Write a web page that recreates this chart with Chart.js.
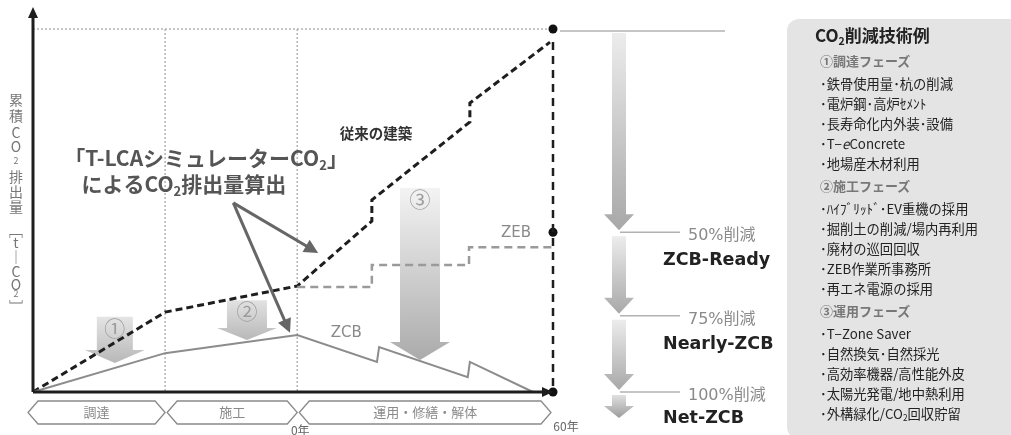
<!DOCTYPE html>
<html lang="ja">
<head>
<meta charset="utf-8">
<script src="https://cdn.jsdelivr.net/npm/chart.js@4/dist/chart.umd.min.js"></script>
<style>
html,body{margin:0;padding:0;background:#fff;overflow:hidden;}
#wrap{position:relative;width:1011px;height:435px;overflow:hidden;font-family:"Noto Sans CJK JP",sans-serif;}
#c{position:absolute;left:0;top:0;}
.lvl{position:absolute;left:688px;transform:translateY(-50%);font:16px "DejaVu Sans","Noto Sans CJK JP";color:#8a8a8a;white-space:nowrap;}
.stage{position:absolute;left:663px;transform:translateY(-50%);font:bold 17.5px "DejaVu Sans",sans-serif;color:#222;white-space:nowrap;}
#panel{position:absolute;left:787px;top:19px;width:250px;height:420px;background:#e4e4e4;border-radius:12px;}
#panel .ttl{padding:4px 0 0 28px;line-height:24px;height:24px;margin-bottom:4px;font-weight:bold;font-size:17px;color:#222;}
#panel .ph{margin-top:2px;margin-bottom:3px;line-height:20px;height:20px;padding-left:33px;font-weight:bold;font-size:13px;color:#777;}
#panel .it{line-height:20px;height:20px;padding-left:33px;font-size:13.3px;color:#222;white-space:nowrap;}
sub{font-size:0.62em;vertical-align:-0.25em;line-height:0;}
</style>
</head>
<body>
<div id="wrap">
  <canvas id="c" width="1011" height="435"></canvas>
  <div id="panel"></div>
</div>
<script>
// ---- phases along the life cycle (x axis: years, negative = before completion) ----
const phaseLabels = ['調達', '施工', '運用・修繕・解体'];
const phaseBounds = [-62, -31, 0, 60];
const yearTicks = [0, 60];
const yearTickLabels = ['0年', '60年'];

// ---- cumulative CO2 emission curves (relative units, 100 = conventional total) ----
const conventionalX = [-62, -31, 0, 17.5, 17.5, 40.5, 40.5, 59.3];
const conventionalY = [0, 22.0, 29.2, 47.1, 52.9, 74.4, 79.6, 96.4];
const zebX = [0, 17.5, 17.5, 40.3, 40.3, 60];
const zebY = [28.9, 28.9, 35.0, 35.0, 39.9, 39.9];
const zcbX = [-62, -31, 0, 18.7, 19.2, 40.0, 40.5, 55.3];
const zcbY = [0, 10.7, 15.7, 8.3, 12.4, 4.1, 8.3, 0];
const endMarkerY = [100, 44, 0];

// ---- reduction levels at 60 years ----
const reductionLevels = [100, 44, 21, 0];
const reductionLabels = ['50%削減', '75%削減', '100%削減'];
const reductionStages = ['ZCB-Ready', 'Nearly-ZCB', 'Net-ZCB'];

// ---- reduction arrows per phase (x centre, top, tip in data units) ----
const phaseArrowLabels = ['①', '②', '③'];
const phaseArrowX = [-42.8, -11.8, 28.8];
const phaseArrowTop = [20.7, 25.3, 56.2];
const phaseArrowTip = [8.0, 14.3, 8.8];

// ---- texts ----
const yTitle = ['累', '積', 'C', 'O', '_2', '排', '出', '量', '﹇', 't', '｜', 'C', 'O', '_2', '﹈'];
const annotationLines = ['「T-LCAシミュレーターCO_2」', 'によるCO_2排出量算出'];
const panelTitle = 'CO_2削減技術例';
const procurementTech = ['･鉄骨使用量･杭の削減', '･電炉鋼･高炉ｾﾒﾝﾄ', '･長寿命化内外装･設備', '･T−<i>e</i>Concrete', '･地場産木材利用'];
const constructionTech = ['･ﾊｲﾌﾞﾘｯﾄﾞ･EV重機の採用', '･掘削土の削減/場内再利用', '･廃材の巡回回収', '･ZEB作業所事務所', '･再エネ電源の採用'];
const operationTech = ['･T−Zone Saver', '･自然換気･自然採光', '･高効率機器/高性能外皮', '･太陽光発電/地中熱利用', '･外構緑化/CO_2回収貯留'];
const techPhaseTitles = ['①調達フェーズ', '②施工フェーズ', '③運用フェーズ'];

const pts = (xs, ys) => xs.map((x, i) => ({x, y: ys[i]}));
const subHtml = s => s.replace(/_2/g, '<sub>2</sub>');

// side panel
(function buildPanel() {
  const p = document.getElementById('panel');
  let html = `<div class="ttl">${subHtml(panelTitle)}</div>`;
  [procurementTech, constructionTech, operationTech].forEach((items, i) => {
    html += `<div class="ph">${techPhaseTitles[i]}</div>`;
    items.forEach(t => { html += `<div class="it">${subHtml(t)}</div>`; });
  });
  p.innerHTML = html;
})();

function parseSub(s) {
  return s.split(/(_2)/).filter(t => t).map(t => t === '_2' ? ['2', true] : [t, false]);
}
function richText(ctx, str, x, y, size, weight, color) {
  const parts = parseSub(str);
  const big = `${weight} ${size}px "Noto Sans CJK JP"`;
  const small = `${weight} ${Math.round(size * 0.62)}px "Noto Sans CJK JP"`;
  ctx.fillStyle = color; ctx.textBaseline = 'middle'; ctx.textAlign = 'left';
  let w = 0;
  parts.forEach(p => { ctx.font = p[1] ? small : big; w += ctx.measureText(p[0]).width; });
  let cx = x - w / 2;
  parts.forEach(p => {
    ctx.font = p[1] ? small : big;
    ctx.fillText(p[0], cx, p[1] ? y + size * 0.32 : y);
    cx += ctx.measureText(p[0]).width;
  });
}
function gradArrow(ctx, cx, top, tip, shaftW, headW, headLen, c0, c1) {
  const g = ctx.createLinearGradient(0, top, 0, tip);
  g.addColorStop(0, c0); g.addColorStop(1, c1);
  ctx.fillStyle = g;
  ctx.beginPath();
  ctx.moveTo(cx - shaftW / 2, top);
  ctx.lineTo(cx + shaftW / 2, top);
  ctx.lineTo(cx + shaftW / 2, tip - headLen);
  ctx.lineTo(cx + headW / 2, tip - headLen);
  ctx.lineTo(cx, tip);
  ctx.lineTo(cx - headW / 2, tip - headLen);
  ctx.lineTo(cx - shaftW / 2, tip - headLen);
  ctx.closePath();
  ctx.fill();
}
function lineArrow(ctx, x0, y0, x1, y1, color, w, head) {
  const a = Math.atan2(y1 - y0, x1 - x0);
  ctx.strokeStyle = color; ctx.fillStyle = color; ctx.lineWidth = w; ctx.setLineDash([]);
  ctx.beginPath(); ctx.moveTo(x0, y0);
  ctx.lineTo(x1 - Math.cos(a) * head * 0.8, y1 - Math.sin(a) * head * 0.8); ctx.stroke();
  ctx.beginPath();
  ctx.moveTo(x1, y1);
  ctx.lineTo(x1 - head * Math.cos(a) + head * 0.5 * Math.sin(a), y1 - head * Math.sin(a) - head * 0.5 * Math.cos(a));
  ctx.lineTo(x1 - head * Math.cos(a) - head * 0.5 * Math.sin(a), y1 - head * Math.sin(a) + head * 0.5 * Math.cos(a));
  ctx.closePath(); ctx.fill();
}

const backdrop = {
  id: 'backdrop',
  beforeDatasetsDraw(chart) {
    const {ctx, scales: {x, y}, chartArea: ca} = chart;
    ctx.save();
    // dotted guides
    ctx.strokeStyle = '#b4b4b4'; ctx.lineWidth = 1.5; ctx.setLineDash([2, 2]);
    ctx.beginPath();
    ctx.moveTo(x.getPixelForValue(phaseBounds[0]), y.getPixelForValue(100));
    ctx.lineTo(x.getPixelForValue(60), y.getPixelForValue(100));
    [phaseBounds[1], phaseBounds[2]].forEach(b => {
      ctx.moveTo(x.getPixelForValue(b), y.getPixelForValue(100));
      ctx.lineTo(x.getPixelForValue(b), y.getPixelForValue(0));
    });
    ctx.stroke();
    ctx.setLineDash([]);

    // reduction arrows per phase
    const shaftW = [36, 40, 40], headW = [60, 60, 60], headLen = [13, 12, 18];
    const c0 = ['#e4e4e4', '#e2e2e2', '#f3f3f3'], c1 = ['#b8b8b8', '#b8b8b8', '#ababab'];
    phaseArrowLabels.forEach((lab, i) => {
      const cx = x.getPixelForValue(phaseArrowX[i]);
      const top = y.getPixelForValue(phaseArrowTop[i]);
      const tip = y.getPixelForValue(phaseArrowTip[i]);
      gradArrow(ctx, cx, top, tip, shaftW[i], headW[i], headLen[i], c0[i], c1[i]);
      ctx.font = '21px "Noto Sans CJK JP"'; ctx.textAlign = 'center'; ctx.textBaseline = 'middle';
      ctx.fillStyle = '#9c9c9c';
      ctx.fillText(lab, cx, top + 11);
    });

    // phase chevrons below the axis
    const top = ca.bottom + 9, bot = ca.bottom + 32, mid = (top + bot) / 2;
    phaseLabels.forEach((lab, i) => {
      const l = x.getPixelForValue(phaseBounds[i]) + (i === 0 ? -5 : 2);
      const r = x.getPixelForValue(phaseBounds[i + 1]) - (i === 2 ? 2 : 0);
      ctx.beginPath();
      ctx.moveTo(l, mid); ctx.lineTo(l + 10, top); ctx.lineTo(r - 10, top);
      ctx.lineTo(r, mid); ctx.lineTo(r - 10, bot); ctx.lineTo(l + 10, bot); ctx.closePath();
      ctx.fillStyle = '#fff'; ctx.fill();
      ctx.strokeStyle = '#8a8a8a'; ctx.lineWidth = 1.3; ctx.stroke();
      ctx.fillStyle = '#8a8a8a'; ctx.font = '13px "Noto Sans CJK JP"';
      ctx.textAlign = 'center'; ctx.textBaseline = 'middle';
      ctx.fillText(lab, (l + r) / 2, mid);
    });
    // year ticks
    ctx.fillStyle = '#666'; ctx.font = '12px "Noto Sans CJK JP"';
    ctx.fillText(yearTickLabels[0], x.getPixelForValue(yearTicks[0]) + 3, ca.bottom + 38);
    ctx.fillText(yearTickLabels[1], x.getPixelForValue(yearTicks[1]) + 13, ca.bottom + 34);

    // vertical axis title
    const ys = [100, 116, 133, 147, 161, 177, 192, 207, 231, 243, 257, 272, 285, 294, 307];
    ctx.fillStyle = '#777';
    yTitle.forEach((ch, i) => {
      const sub = ch.startsWith('_');
      ctx.font = (sub ? '9px' : '14px') + ' "Noto Sans CJK JP"';
      ctx.fillText(sub ? ch.slice(1) : ch, 16, ys[i]);
    });

    // reduction levels on the right
    const ax = ca.right + 66;
    const lvPx = reductionLevels.map(v => y.getPixelForValue(v));
    ctx.strokeStyle = '#b2b2b2'; ctx.lineWidth = 1.5;
    ctx.beginPath();
    ctx.moveTo(ca.right + 7, lvPx[0] + 2); ctx.lineTo(ca.right + 172, lvPx[0] + 2);
    for (let i = 1; i < lvPx.length; i++) {
      ctx.moveTo(ax + 1, lvPx[i]); ctx.lineTo(ca.right + 127, lvPx[i]);
    }
    ctx.stroke();
    for (let i = 0; i < lvPx.length - 1; i++) {
      gradArrow(ctx, ax, lvPx[i] + 4, lvPx[i + 1] - 2, 14, 30, 16, '#ececec', '#a8a8a8');
    }
    gradArrow(ctx, ax, lvPx[3] + 3, lvPx[3] + 26, 14, 30, 12, '#e0e0e0', '#9c9c9c');
    ctx.restore();
  },
  afterDatasetsDraw(chart) {
    const {ctx, scales: {x, y}, chartArea: ca} = chart;
    ctx.save();
    // axes with arrowheads
    const x0 = x.getPixelForValue(phaseBounds[0]), y0 = y.getPixelForValue(0);
    const xEnd = x.getPixelForValue(60);
    ctx.strokeStyle = '#1e1e1e'; ctx.fillStyle = '#1e1e1e'; ctx.lineWidth = 3; ctx.setLineDash([]);
    ctx.beginPath();
    ctx.moveTo(x0, y0); ctx.lineTo(x0, ca.top + 8);
    ctx.moveTo(x0, y0); ctx.lineTo(xEnd - 6, y0);
    ctx.stroke();
    ctx.beginPath(); ctx.moveTo(x0, ca.top - 1); ctx.lineTo(x0 - 5, ca.top + 10); ctx.lineTo(x0 + 5, ca.top + 10); ctx.closePath(); ctx.fill();
    ctx.beginPath(); ctx.moveTo(xEnd, y0); ctx.lineTo(xEnd - 11, y0 - 5); ctx.lineTo(xEnd - 11, y0 + 5); ctx.closePath(); ctx.fill();

    // series labels
    ctx.textAlign = 'center'; ctx.textBaseline = 'middle';
    ctx.fillStyle = '#333'; ctx.font = 'bold 14.5px "Noto Sans CJK JP"';
    ctx.fillText('従来の建築', x.getPixelForValue(18.5), y.getPixelForValue(71.3));
    ctx.fillStyle = '#8a8a8a'; ctx.font = '15px "DejaVu Sans"';
    ctx.fillText('ZEB', x.getPixelForValue(51.3), y.getPixelForValue(43.8));
    ctx.fillText('ZCB', x.getPixelForValue(11.5), y.getPixelForValue(16.3));

    // simulator annotation
    richText(ctx, annotationLines[0], x.getPixelForValue(-21.4), y.getPixelForValue(64.5), 21, 'bold', '#555');
    richText(ctx, annotationLines[1], x.getPixelForValue(-26.6), y.getPixelForValue(57.3), 21, 'bold', '#555');
    const sx = x.getPixelForValue(-15.0), sy = y.getPixelForValue(52.1);
    lineArrow(ctx, sx, sy, x.getPixelForValue(4.9), y.getPixelForValue(38.3), '#666', 3, 14);
    lineArrow(ctx, sx, sy, x.getPixelForValue(-1.7), y.getPixelForValue(16.3), '#666', 3, 14);
    ctx.restore();
  }
};

const chart = new Chart(document.getElementById('c'), {
  type: 'scatter',
  data: {
    datasets: [
      { label: 'ZCB', data: pts(zcbX, zcbY), showLine: true, borderColor: '#8c8c8c', borderWidth: 2, pointRadius: 0, clip: false },
      { label: 'ZEB', data: pts(zebX, zebY), showLine: true, borderColor: '#9a9a9a', borderWidth: 2.5, borderDash: [8, 5], pointRadius: 0, clip: false },
      { label: '従来の建築', data: pts(conventionalX, conventionalY), showLine: true, borderColor: '#1e1e1e', borderWidth: 3, borderDash: [7, 4], pointRadius: 0, clip: false },
      { label: '60年', data: pts([60, 60], [conventionalY[conventionalY.length - 1], 0]), showLine: true, borderColor: '#1e1e1e', borderWidth: 2.5, borderDash: [8, 6], pointRadius: 0, clip: false },
      { label: 'markers', data: pts(endMarkerY.map(() => 60), endMarkerY), showLine: false, pointRadius: 4.5, pointBackgroundColor: '#111', pointBorderWidth: 0, clip: false }
    ]
  },
  options: {
    responsive: false,
    animation: false,
    events: [],
    layout: { padding: { left: 33, right: 458, top: 8, bottom: 43 } },
    scales: {
      x: { type: 'linear', min: -62, max: 60, display: false },
      y: { type: 'linear', min: 0, max: 105.8, display: false }
    },
    plugins: { legend: { display: false }, tooltip: { enabled: false } }
  },
  plugins: [backdrop]
});

// level captions beside the reduction arrows
(function levelCaptions() {
  const wrap = document.getElementById('wrap');
  const ys = chart.scales.y;
  reductionLabels.forEach((lab, i) => {
    const py = ys.getPixelForValue(reductionLevels[i + 1]);
    const a = document.createElement('div');
    a.className = 'lvl'; a.style.top = (py + 1) + 'px'; a.textContent = lab;
    const b = document.createElement('div');
    b.className = 'stage'; b.style.top = (py + (i === 2 ? 25 : 27)) + 'px'; b.textContent = reductionStages[i];
    wrap.appendChild(a); wrap.appendChild(b);
  });
})();
</script>
</body>
</html>
